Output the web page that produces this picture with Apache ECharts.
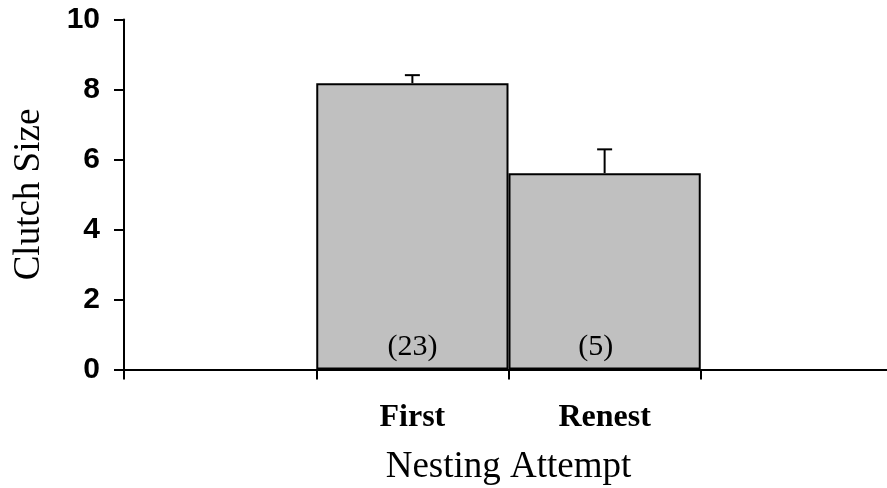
<!DOCTYPE html>
<html>
<head>
<meta charset="utf-8">
<style>
  html, body { margin: 0; padding: 0; background: #fff; }
  #chart { width: 887px; height: 488px; }
</style>
<script src="https://cdn.jsdelivr.net/npm/echarts@6/dist/echarts.min.js"></script>
</head>
<body>
<div id="chart"></div>
<script>
// Clutch size by nesting attempt (mean with upper error bar, sample size in brackets)
const categories = ['', 'First', 'Renest', ''];
const meanClutch = [null, 8.18, 5.61, null];
const upperError = [null, 8.41, 6.29, null];
const sampleSizes = ['', '(23)', '(5)', ''];
const yTicks = [0, 2, 4, 6, 8, 10];

// horizontal nudge of the sample-size labels, per category
const sampleLabelShift = [0, 0, -9, 0];

const chart = echarts.init(document.getElementById('chart'));

const serif = '"Liberation Serif", "Times New Roman", serif';
const sans = '"Liberation Sans", Arial, sans-serif';

chart.setOption({
  animation: false,
  grid: { left: 124, right: -6, top: 19.5, bottom: 118.5, outerBoundsMode: 'none', containLabel: false },
  xAxis: {
    type: 'category',
    data: categories,
    boundaryGap: true,
    name: 'Nesting Attempt',
    nameLocation: 'middle',
    nameGap: 79,
    nameTextStyle: { fontFamily: serif, fontSize: 37, color: '#000' },
    axisLine: { lineStyle: { color: '#000', width: 2 } },
    axisTick: { show: true, length: 10, inside: false, interval: 0, lineStyle: { color: '#000', width: 2 } },
    axisLabel: {
      interval: 0, margin: 32,
      fontFamily: serif, fontSize: 32, fontWeight: 'bold', color: '#000'
    },
    splitLine: { show: false }
  },
  yAxis: {
    type: 'value',
    min: yTicks[0],
    max: yTicks[yTicks.length - 1],
    interval: 2,
    name: 'Clutch Size',
    nameLocation: 'middle',
    nameGap: 76,
    nameRotate: 90,
    nameTextStyle: { fontFamily: serif, fontSize: 37, color: '#000' },
    axisLine: { show: true, lineStyle: { color: '#000', width: 2 } },
    axisTick: { show: true, length: 10, inside: false, lineStyle: { color: '#000', width: 2 } },
    axisLabel: { margin: 24, fontFamily: sans, fontSize: 30, fontWeight: 'bold', color: '#000' },
    splitLine: { show: false }
  },
  series: [
    {
      type: 'bar',
      data: meanClutch.map((v, i) => ({
        value: v,
        label: { offset: [sampleLabelShift[i], 0] }
      })),
      barWidth: '100%',
      barCategoryGap: '0%',
      itemStyle: { color: '#c0c0c0', borderColor: '#000', borderWidth: 2 },
      label: {
        show: true,
        position: 'insideBottom',
        distance: 7,
        fontFamily: serif,
        fontSize: 30,
        color: '#000',
        formatter: p => sampleSizes[p.dataIndex]
      },
      z: 2
    },
    {
      type: 'custom',
      z: 3,
      data: categories.map((c, i) => [i, meanClutch[i], upperError[i]]),
      renderItem: function (params, api) {
        if (api.value(1) == null || isNaN(api.value(1))) return null;
        const base = api.coord([api.value(0), api.value(1)]);
        const top = api.coord([api.value(0), api.value(2)]);
        const half = 7.5;
        const style = { stroke: '#000', lineWidth: 2 };
        return {
          type: 'group',
          children: [
            { type: 'line', shape: { x1: base[0], y1: base[1], x2: top[0], y2: top[1] }, style },
            { type: 'line', shape: { x1: top[0] - half, y1: top[1], x2: top[0] + half, y2: top[1] }, style }
          ]
        };
      }
    }
  ]
});
</script>
</body>
</html>
